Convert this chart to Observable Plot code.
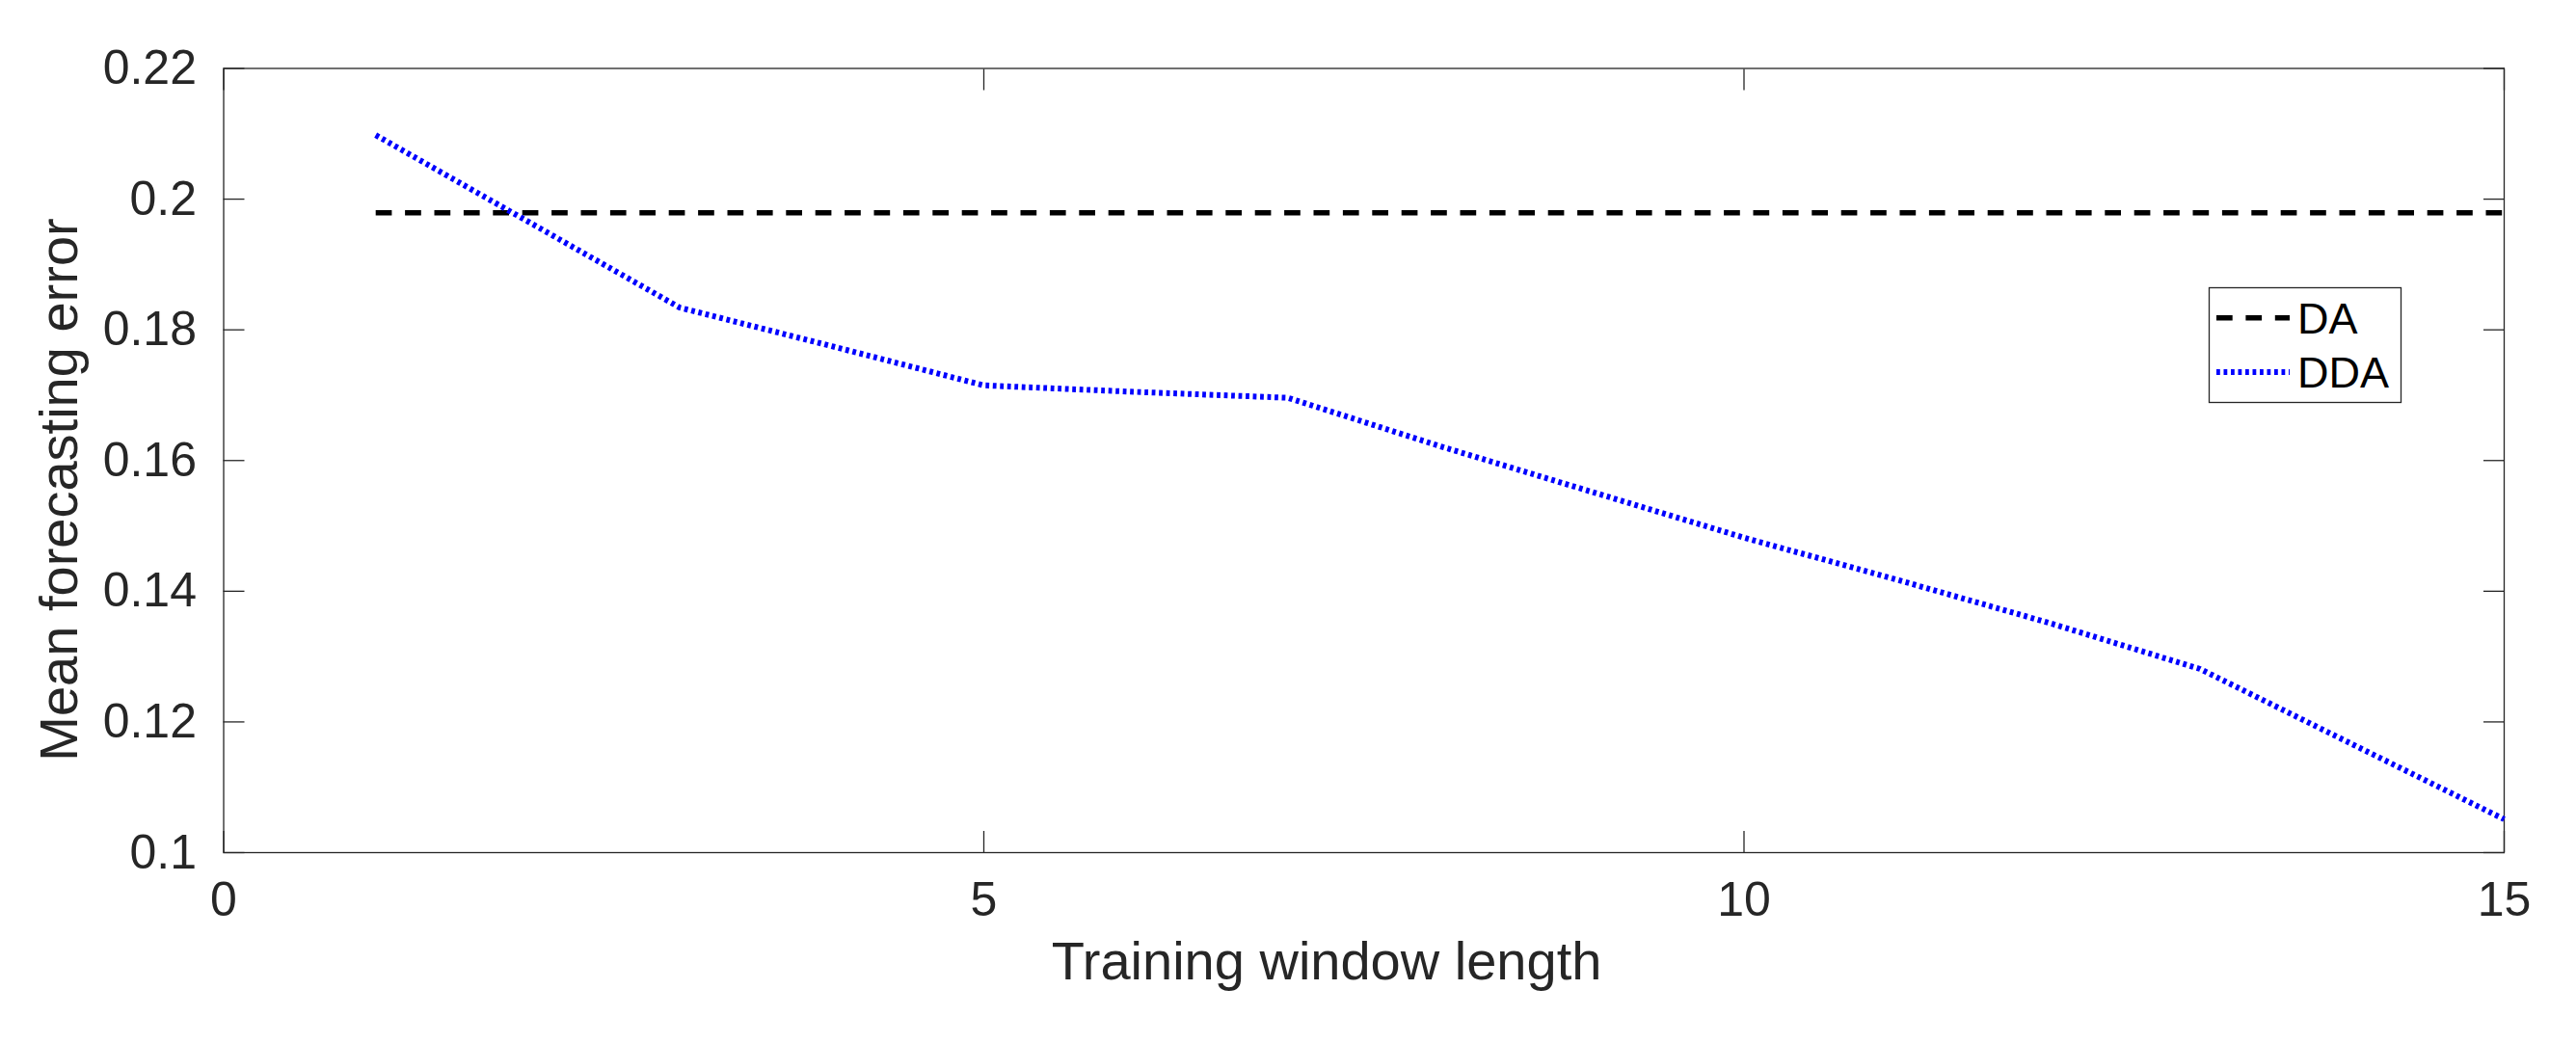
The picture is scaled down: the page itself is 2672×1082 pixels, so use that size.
<!DOCTYPE html>
<html>
<head>
<meta charset="utf-8">
<script src="https://cdn.jsdelivr.net/npm/d3@7"></script>
<script src="https://cdn.jsdelivr.net/npm/@observablehq/plot@0.6"></script>
<style>
  html, body { margin: 0; padding: 0; background: #fff; }
  #chart svg { display: block; }
</style>
</head>
<body>
<div id="chart"></div>
<script>
// ---- data ----
const windowLength = [1, 2, 3, 4, 5, 6, 7, 8, 9, 10, 11, 12, 13, 14, 15];
const ddaError = [0.2098, 0.1966, 0.1834, 0.1775, 0.1715, 0.1705, 0.1696, 0.1622, 0.1552, 0.1482, 0.1418, 0.1352, 0.1281, 0.1166, 0.1051];
const daWindow = [1, 15];
const daError = [0.1979, 0.1979];
const seriesNames = ["DA", "DDA"];
const xTicks = [0, 5, 10, 15];
const yTicks = [0.1, 0.12, 0.14, 0.16, 0.18, 0.2, 0.22];
const xLabel = "Training window length";
const yLabel = "Mean forecasting error";

const ddaData = windowLength.map((x, i) => ({x, y: ddaError[i], s: seriesNames[1]}));
const daData = daWindow.map((x, i) => ({x, y: daError[i], s: seriesNames[0]}));

const axisColor = "#262626";
const font = "'Liberation Sans', Arial, Helvetica, sans-serif";
const daDash = "16.7,13.7";
const ddaDash = "3.8,3.7";

const plot = Plot.plot({
  width: 2672,
  height: 1082,
  marginLeft: 231.5,
  marginRight: 75,
  marginTop: 70.5,
  marginBottom: 198,
  style: {fontFamily: font, fontSize: "50px", background: "white", overflow: "visible"},
  x: {domain: [0, 15]},
  y: {domain: [0.1, 0.22]},
  marks: [
    Plot.axisX({anchor: "bottom", ticks: xTicks, tickSize: -22, tickPadding: 51.5, color: axisColor, label: null, tickFormat: d => String(d), strokeWidth: 1.3}),
    Plot.axisX({anchor: "top", ticks: xTicks, tickSize: -22, color: axisColor, label: null, tickFormat: () => "", strokeWidth: 1.3}),
    Plot.axisY({anchor: "left", ticks: yTicks, tickSize: -22, tickPadding: 50, color: axisColor, label: null, tickFormat: d => String(d), strokeWidth: 1.3}),
    Plot.axisY({anchor: "right", ticks: yTicks, tickSize: -22, color: axisColor, label: null, tickFormat: () => "", strokeWidth: 1.3}),
    Plot.frame({stroke: axisColor, strokeWidth: 1.3}),
    Plot.line(daData, {x: "x", y: "y", stroke: "#000000", strokeWidth: 5.6, strokeDasharray: daDash, strokeLinecap: "butt", strokeLinejoin: "miter"}),
    Plot.line(ddaData, {x: "x", y: "y", stroke: "#0000ff", strokeWidth: 6, strokeDasharray: ddaDash, strokeLinecap: "butt", strokeLinejoin: "miter"})
  ]
});

document.getElementById("chart").appendChild(plot);

// ---- axis titles ----
const svg = d3.select(plot);
svg.append("text")
  .attr("x", 1376).attr("y", 1015.5)
  .attr("text-anchor", "middle")
  .attr("fill", axisColor)
  .style("font-family", font).style("font-size", "56px")
  .text(xLabel);
svg.append("text")
  .attr("transform", "translate(80,508) rotate(-90)")
  .attr("text-anchor", "middle")
  .attr("fill", axisColor)
  .style("font-family", font).style("font-size", "56px")
  .text(yLabel);

// ---- legend ----
const lg = svg.append("g");
lg.append("rect")
  .attr("x", 2291.5).attr("y", 298.5).attr("width", 199).attr("height", 119)
  .attr("fill", "white").attr("stroke", axisColor).attr("stroke-width", 1.3);
const legendItems = [
  {name: seriesNames[0], color: "#000000", dash: daDash, w: 5.6, ly: 329.7, ty: 345.7},
  {name: seriesNames[1], color: "#0000ff", dash: ddaDash, w: 6, ly: 386, ty: 401.7}
];
legendItems.forEach(d => {
  lg.append("line")
    .attr("x1", 2299).attr("x2", 2375).attr("y1", d.ly).attr("y2", d.ly)
    .attr("stroke", d.color).attr("stroke-width", d.w).attr("stroke-dasharray", d.dash)
    .attr("stroke-linecap", "butt");
  lg.append("text")
    .attr("x", 2383).attr("y", d.ty)
    .attr("text-anchor", "start")
    .attr("fill", "#000")
    .style("font-family", font).style("font-size", "45px")
    .text(d.name);
});
</script>
</body>
</html>
